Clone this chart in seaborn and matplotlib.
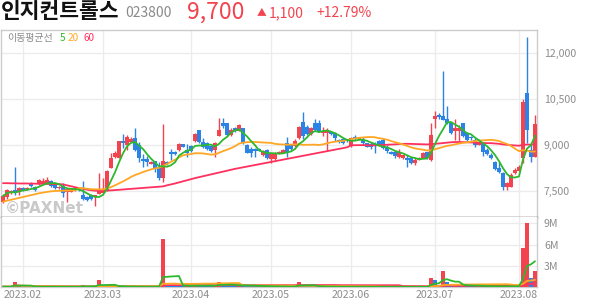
import numpy as np
import pandas as pd
import matplotlib
matplotlib.use("Agg")
import matplotlib.pyplot as plt
import seaborn as sns

# ---------------- data ----------------
title = "인지컨트롤스"
code = "023800"
price_text = "9,700"
change_arrow = "▲"
change_abs = "1,100"
change_pct = "+12.79%"

month_labels = ["2023.02", "2023.03", "2023.04", "2023.05", "2023.06", "2023.07", "2023.08"]
month_start_idx = [5, 25, 47, 67, 87, 108, 129]
price_ticks = [7500, 9000, 10500, 12000]
price_tick_labels = ["7,500", "9,000", "10,500", "12,000"]
vol_ticks = [3e6, 6e6, 9e6]
vol_tick_labels = ["3M", "6M", "9M"]

opens = [7150, 7300, 7450, 7540, 7480, 7610, 7560, 7775, 7645, 7730,
         7775, 7775, 7830, 7700, 7600, 7670, 7480, 7480, 7540, 7590,
         7365, 7300, 7380, 7300, 7410, 7450, 7515, 8240, 8620, 8590,
         9130, 9000, 9110, 9220, 9000, 8545, 8545, 8390, 8480, 8295,
         7940, 8460, 8780, 8780, 8840, 9020, 8840, 8970, 9130, 9490,
         9110, 9075, 8970, 8840, 9290, 9705, 9705, 9325, 9540, 9465,
         9540, 9000, 8860, 8860, 8860, 8675, 8840, 8535, 8535, 8730,
         8750, 9075, 9000, 8970, 9220, 9760, 9595, 9360, 9705, 9705,
         9380, 9380, 9430, 9380, 9160, 9195, 9180, 8980, 9270, 9180,
         9160, 9055, 9040, 9020, 9130, 9160, 8945, 8780, 8780, 8600,
         8570, 8590, 8590, 8405, 8515, 8590, 8760, 8510, 9835, 9975,
         9945, 9835, 9725, 9465, 9465, 9705, 9400, 9270, 9160, 9000,
         9075, 8840, 8675, 8460, 8245, 8100, 7625, 7645, 8080, 8165,
         8565, 10700, 8840, 8620]
highs = [7400, 7560, 7540, 8300, 7640, 7640, 7640, 7810, 7670, 7880,
         7920, 7970, 7850, 7720, 7680, 7755, 7600, 7600, 7610, 7620,
         7830, 7330, 7400, 7370, 8100, 7920, 8200, 8730, 8790, 9140,
         9360, 9330, 9250, 9560, 9100, 8700, 8650, 8480, 8480, 8460,
         9680, 8480, 8870, 8800, 9050, 9040, 9040, 9000, 9380, 9500,
         9220, 9100, 9000, 9100, 9870, 9870, 9720, 9540, 9580, 9700,
         9560, 9030, 8920, 8900, 8900, 8840, 8860, 8730, 8760, 8790,
         8860, 9270, 9030, 9180, 9620, 10080, 9640, 9600, 9835, 9810,
         9590, 9560, 9450, 9430, 9200, 9220, 9200, 9270, 9330, 9260,
         9270, 9080, 9110, 9100, 9150, 9220, 9000, 8800, 8800, 8880,
         8690, 8680, 8610, 8570, 8610, 8780, 8780, 9725, 10115, 10050,
         11415, 10270, 9740, 9835, 9650, 9720, 9420, 9300, 9240, 9130,
         9110, 8890, 8750, 8470, 8460, 8110, 7810, 8100, 8240, 8350,
         10485, 12500, 9000, 9975]
lows = [7100, 7260, 7420, 7370, 7380, 7520, 7540, 7640, 7520, 7700,
        7750, 7750, 7640, 7580, 7580, 7300, 7150, 7460, 7520, 7520,
        7220, 7180, 7220, 7020, 7400, 7440, 7500, 8240, 8590, 8580,
        8890, 8840, 9080, 8820, 8440, 8300, 8320, 8380, 8110, 7860,
        7810, 8340, 8500, 8680, 8800, 8920, 8620, 8780, 9100, 9080,
        8890, 8840, 8780, 8600, 9280, 9560, 9300, 9300, 9430, 9450,
        9040, 8730, 8600, 8600, 8790, 8640, 8550, 8405, 8520, 8710,
        8730, 8620, 8840, 8930, 9200, 9210, 9340, 9320, 9470, 9420,
        9300, 8805, 9330, 9140, 9070, 9030, 9100, 8950, 9170, 9160,
        9000, 8920, 8880, 8730, 8960, 8880, 8730, 8700, 8590, 8570,
        8550, 8295, 8390, 8350, 8500, 8570, 8550, 8490, 9540, 9840,
        9800, 9680, 9360, 9160, 9140, 9270, 9140, 9160, 8950, 8990,
        8640, 8690, 8550, 8190, 8080, 7540, 7540, 7620, 8060, 8140,
        8405, 9065, 8460, 8600]
closes = [7340, 7540, 7515, 7450, 7590, 7540, 7610, 7670, 7540, 7860,
          7830, 7860, 7670, 7610, 7650, 7450, 7580, 7580, 7590, 7540,
          7235, 7200, 7235, 7365, 7515, 7580, 8155, 8590, 8730, 9130,
          9055, 9270, 9195, 8840, 8570, 8480, 8440, 8460, 8220, 7940,
          8480, 8370, 8700, 8700, 9020, 8945, 8730, 8805, 9350, 9090,
          8945, 8860, 8815, 9075, 9490, 9620, 9325, 9490, 9460, 9650,
          9055, 8750, 8730, 8790, 8820, 8805, 8570, 8700, 8750, 8780,
          8840, 8730, 8860, 9140, 9595, 9290, 9360, 9540, 9490, 9430,
          9455, 9455, 9350, 9220, 9090, 9055, 9120, 9220, 9220, 9240,
          9055, 8945, 8950, 8980, 8980, 8890, 8805, 8720, 8650, 8780,
          8675, 8515, 8405, 8515, 8590, 8730, 8570, 9325, 9945, 9900,
          9810, 9705, 9380, 9540, 9540, 9290, 9160, 9220, 9000, 9110,
          8780, 8710, 8565, 8210, 8130, 7625, 7755, 8025, 8190, 8295,
          10410, 9490, 8600, 9700]
volumes = [60e3, 50e3, 40e3, 700e3, 120e3, 60e3, 50e3, 60e3, 40e3, 50e3,
           50e3, 40e3, 50e3, 40e3, 30e3, 60e3, 50e3, 40e3, 30e3, 40e3,
           250e3, 60e3, 40e3, 50e3, 1000e3, 200e3, 150e3, 100e3, 80e3, 90e3,
           70e3, 60e3, 50e3, 60e3, 50e3, 40e3, 40e3, 30e3, 40e3, 50e3,
           6800e3, 300e3, 250e3, 200e3, 180e3, 150e3, 160e3, 150e3, 300e3, 200e3,
           180e3, 150e3, 140e3, 250e3, 650e3, 300e3, 250e3, 200e3, 180e3, 300e3,
           250e3, 200e3, 150e3, 120e3, 100e3, 150e3, 100e3, 80e3, 60e3, 50e3,
           60e3, 80e3, 60e3, 100e3, 700e3, 200e3, 150e3, 100e3, 80e3, 60e3,
           50e3, 70e3, 50e3, 40e3, 40e3, 30e3, 40e3, 50e3, 40e3, 40e3,
           30e3, 40e3, 30e3, 30e3, 40e3, 30e3, 30e3, 20e3, 30e3, 40e3,
           30e3, 30e3, 20e3, 30e3, 30e3, 40e3, 30e3, 1270e3, 1000e3, 250e3,
           2260e3, 750e3, 250e3, 300e3, 200e3, 250e3, 200e3, 180e3, 150e3, 160e3,
           120e3, 100e3, 80e3, 100e3, 80e3, 120e3, 100e3, 120e3, 80e3, 90e3,
           5500e3, 9100e3, 1300e3, 2200e3]

# moving-average values (window reaches back before
# the first visible day)
ma20_early = [7160, 7190, 7220, 7250, 7280, 7310, 7340, 7370, 7400, 7430,
              7455, 7475, 7495, 7505, 7510, 7515, 7520, 7525, 7530]
ma60_early = [7760, 7760, 7755, 7755, 7750, 7750, 7750, 7745, 7745, 7740,
              7740, 7735, 7735, 7730, 7730, 7720, 7690, 7660, 7630, 7600,
              7575, 7550, 7530, 7515, 7510, 7515, 7520, 7525, 7535, 7545,
              7555, 7565, 7575, 7585, 7595, 7605, 7615, 7625, 7635, 7645,
              7655, 7690, 7720, 7750, 7785, 7820, 7855, 7890, 7925, 7955,
              7985, 8015, 8045, 8075, 8105, 8135, 8165, 8195, 8225, 8250,
              8275, 8300, 8325, 8350, 8375, 8400, 8425, 8450, 8475, 8500,
              8525, 8550, 8575, 8600, 8625, 8650, 8675, 8700, 8725, 8750,
              8775, 8800, 8825, 8850, 8875, 8900, 8925]

# ---------------- derived ----------------
df = pd.DataFrame({"open": opens, "high": highs, "low": lows,
                   "close": closes, "volume": volumes})
df["idx"] = np.arange(len(df))
for n in (5, 20, 60):
    df[f"ma{n}"] = df["close"].rolling(n, min_periods=1).mean()
    df[f"vma{n}"] = df["volume"].rolling(n, min_periods=1).mean()
df.loc[:len(ma20_early) - 1, "ma20"] = ma20_early
df.loc[:len(ma60_early) - 1, "ma60"] = ma60_early

RED = "#f2434f"
BLUE = "#2b83e6"
C5 = "#2db82d"
C20 = "#ffa724"
C60 = "#ff305e"
GRID = "#ececec"
FRAME = "#cccccc"
TXT = "#8c8c8c"

sns.set_theme(style="white")
plt.rcParams["font.family"] = ["Noto Sans CJK KR", "DejaVu Sans"]

fig = plt.figure(figsize=(5.94, 3.04), dpi=100)
W, H = 594, 304
ax = fig.add_axes([1 / W, (H - 217) / H, 536 / W, 187 / H])
axv = fig.add_axes([1 / W, (H - 287) / H, 536 / W, 70 / H], sharex=ax)

# ---------------- price panel ----------------
up = df["close"] >= df["open"]
cols = np.where(up, RED, BLUE)
body_lo = np.minimum(df["open"], df["close"])
body_h = np.maximum(np.abs(df["close"] - df["open"]), 30)
ax.vlines(df["idx"], df["low"], df["high"], colors=cols, lw=1.0, zorder=3)
ax.bar(df["idx"], body_h, bottom=body_lo, width=0.8, color=cols, lw=0, zorder=4)

sns.lineplot(data=df, x="idx", y="ma60", color=C60, lw=1.3, ax=ax, zorder=5)
sns.lineplot(data=df, x="idx", y="ma20", color=C20, lw=1.3, ax=ax, zorder=5)
sns.lineplot(data=df, x="idx", y="ma5", color=C5, lw=1.3, ax=ax, zorder=6)

ax.set_xlim(-0.5, len(df) - 0.5)
ax.set_ylim(6660, 12740)
ax.set_yticks(price_ticks)
ax.set_yticklabels(price_tick_labels)
ax.yaxis.tick_right()
ax.tick_params(axis="y", length=0, pad=5, labelsize=7.6, labelcolor=TXT)
ax.tick_params(axis="x", length=0, labelbottom=False)
ax.set_xticks(month_start_idx)
ax.grid(True, color=GRID, lw=1.0, zorder=0)
ax.set_xlabel("")
ax.set_ylabel("")
for s in ("top", "left", "right"):
    ax.spines[s].set_color(FRAME)
    ax.spines[s].set_linewidth(1.0)
ax.spines["bottom"].set_color("#444444")
ax.spines["bottom"].set_linewidth(1.0)

# legend text
ax.text(0.012, 0.955, "이동평균선", transform=ax.transAxes, fontsize=7.2,
        color=TXT, va="center", ha="left")
ax.text(0.110, 0.955, "5", transform=ax.transAxes, fontsize=7.2,
        color=C5, va="center", ha="left")
ax.text(0.125, 0.955, "20", transform=ax.transAxes, fontsize=7.2,
        color=C20, va="center", ha="left")
ax.text(0.153, 0.955, "60", transform=ax.transAxes, fontsize=7.2,
        color=C60, va="center", ha="left")

# watermark
ax.text(0.008, 0.045, "©PAXNet", transform=ax.transAxes, fontsize=11,
        color="#c9c9c9", fontweight="bold", va="center", ha="left",
        family=["DejaVu Sans"], zorder=2)

# ---------------- volume panel ----------------
vcols = [RED] + [RED if df["volume"][i] >= df["volume"][i - 1] else BLUE
                 for i in range(1, len(df))]
axv.bar(df["idx"], df["volume"], width=0.8, color=vcols, lw=0, zorder=3)
sns.lineplot(data=df, x="idx", y="vma60", color=C60, lw=1.3, ax=axv, zorder=4)
sns.lineplot(data=df, x="idx", y="vma20", color=C20, lw=1.3, ax=axv, zorder=4)
sns.lineplot(data=df, x="idx", y="vma5", color=C5, lw=1.3, ax=axv, zorder=5)
axv.set_ylim(0, 9.9e6)
axv.set_yticks(vol_ticks)
axv.set_yticklabels(vol_tick_labels)
axv.yaxis.tick_right()
axv.tick_params(axis="y", length=0, pad=5, labelsize=7.6, labelcolor=TXT)
axv.set_xticks(month_start_idx)
axv.set_xticklabels(month_labels)
axv.tick_params(axis="x", length=0, pad=2, labelsize=7.6, labelcolor=TXT)
axv.grid(True, color=GRID, lw=1.0, zorder=0)
axv.set_xlabel("")
axv.set_ylabel("")
axv.spines["top"].set_visible(False)
for s in ("left", "right", "bottom"):
    axv.spines[s].set_color(FRAME)
    axv.spines[s].set_linewidth(1.0)

# ---------------- header ----------------
fig.text(1 / W, 1 - 12 / H, title, fontsize=15.5, fontweight="bold",
         color="#111111", va="center", ha="left")
fig.text(125 / W, 1 - 13 / H, code, fontsize=10, color="#8a8a8a",
         va="center", ha="left")
fig.text(187 / W, 1 - 12 / H, price_text, fontsize=16.5, color=RED,
         va="center", ha="left")
fig.text(257 / W, 1 - 12 / H, change_arrow, fontsize=7, color=RED,
         va="center", ha="left")
fig.text(269 / W, 1 - 13 / H, change_abs, fontsize=10, color=RED,
         va="center", ha="left")
fig.text(316 / W, 1 - 13 / H, change_pct, fontsize=10, color=RED,
         va="center", ha="left")

fig.savefig("out.png", dpi=100)
